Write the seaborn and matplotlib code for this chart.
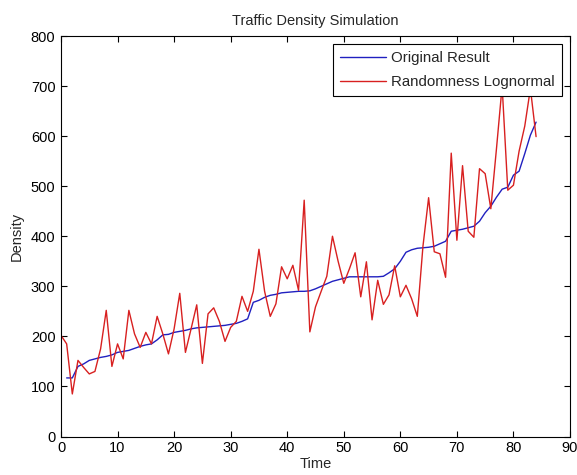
import matplotlib
matplotlib.use("Agg")
import matplotlib.pyplot as plt
import seaborn as sns
import pandas as pd

# ---- data ----
time_original = list(range(1, 85))
original_result = [117, 117, 140, 145, 152, 155, 158, 160, 163, 168,
                   170, 172, 176, 180, 183, 185, 193, 203, 204, 208,
                   210, 212, 215, 217, 218, 219, 220, 221, 222, 224,
                   226, 230, 235, 268, 272, 278, 282, 284, 287, 288,
                   289, 290, 290, 291, 295, 300, 305, 310, 313, 316,
                   319, 319, 319, 319, 319, 319, 320, 327, 335, 350,
                   368, 373, 376, 377, 378, 380, 385, 390, 410, 412,
                   414, 417, 420, 430, 447, 460, 478, 494, 498, 522,
                   530, 565, 602, 628]

time_random = list(range(0, 85))
random_lognormal = [202, 185, 85, 152, 138, 125, 130, 175, 252, 140,
                    185, 155, 252, 205, 178, 208, 185, 240, 205, 165,
                    215, 286, 168, 215, 263, 146, 245, 257, 230, 190,
                    218, 230, 280, 250, 290, 374, 290, 240, 265, 339,
                    315, 342, 292, 472, 209, 259, 290, 320, 400, 350,
                    306, 335, 367, 279, 349, 233, 312, 264, 283, 341,
                    279, 302, 275, 240, 380, 477, 369, 365, 318, 566,
                    392, 541, 410, 398, 535, 525, 455, 575, 700, 492,
                    502, 570, 620, 695, 599]

series_labels = ["Original Result", "Randomness Lognormal"]
title_text = "Traffic Density Simulation"
x_label = "Time"
y_label = "Density"
x_ticks = list(range(0, 91, 10))
y_ticks = list(range(0, 801, 100))

df_orig = pd.DataFrame({"Time": time_original, "Density": original_result})
df_rand = pd.DataFrame({"Time": time_random, "Density": random_lognormal})

sns.set_style("ticks")
plt.rcParams["font.family"] = ["Liberation Sans", "DejaVu Sans"]

fig = plt.figure(figsize=(5.77, 4.75), dpi=100, facecolor="white")
ax = fig.add_axes([61 / 577, 1 - 436.5 / 475, (570 - 61) / 577, (436.5 - 36) / 475])

sns.lineplot(data=df_orig, x="Time", y="Density", ax=ax, color="#2020c0",
             linewidth=1.0, label=series_labels[0])
sns.lineplot(data=df_rand, x="Time", y="Density", ax=ax, color="#d82020",
             linewidth=1.0, label=series_labels[1])

ax.set_xlim(0, 90)
ax.set_ylim(0, 800)
ax.set_xticks(x_ticks)
ax.set_yticks(y_ticks)
ax.tick_params(direction="in", length=4, width=0.8, top=True, right=True,
               labelsize=10.5, colors="black")
ax.tick_params(axis="x", pad=3.5)
ax.tick_params(axis="y", pad=4)
for s in ax.spines.values():
    s.set_visible(True)
    s.set_color("black")
    s.set_linewidth(0.8)

ax.set_title(title_text, fontsize=10.5, pad=8)
ax.set_xlabel(x_label, fontsize=10.5, labelpad=1)
ax.set_ylabel(y_label, fontsize=10.5, labelpad=5)

leg = ax.legend(loc="upper right", fontsize=10.8, frameon=True, fancybox=False,
                edgecolor="black", framealpha=1, borderaxespad=0.55,
                handlelength=3.1, handletextpad=0.35, borderpad=0.45,
                labelspacing=0.68)
leg.get_frame().set_linewidth(0.8)

fig.savefig("out.png", dpi=100, facecolor="white")
